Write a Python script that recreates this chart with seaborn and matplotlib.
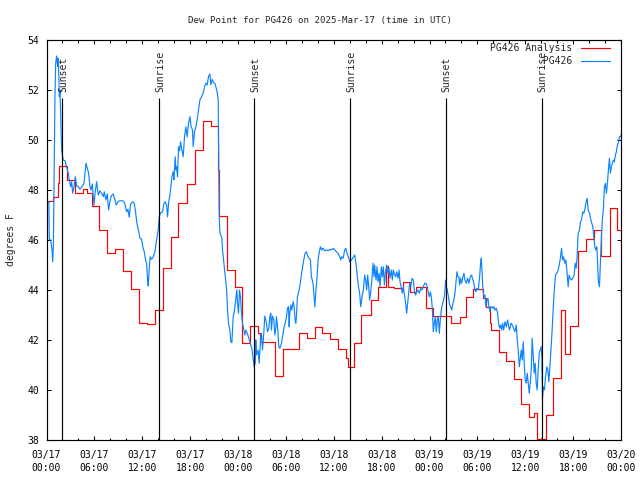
import matplotlib
matplotlib.use("Agg")
import matplotlib.pyplot as plt
import seaborn as sns
from matplotlib.ticker import MultipleLocator, FixedLocator, FixedFormatter

# ---------------- data ----------------
title = "Dew Point for PG426 on 2025-Mar-17 (time in UTC)"
y_label = "degrees F"
x_tick_hours = [0, 6, 12, 18, 24, 30, 36, 42, 48, 54, 60, 66, 72]
x_tick_labels = ["03/17\n00:00", "03/17\n06:00", "03/17\n12:00", "03/17\n18:00",
                 "03/18\n00:00", "03/18\n06:00", "03/18\n12:00", "03/18\n18:00",
                 "03/19\n00:00", "03/19\n06:00", "03/19\n12:00", "03/19\n18:00",
                 "03/20\n00:00"]
y_ticks = [38, 40, 42, 44, 46, 48, 50, 52, 54]

sun_hours = [1.98, 14.1, 26.0, 38.02, 50.02, 62.05]
sun_labels = ["Sunset", "Sunrise", "Sunset", "Sunrise", "Sunset", "Sunrise"]

# hours since 03/17 00:00 UTC where each analysis (hourly) value starts
analysis_hours = [0.0, 0.78, 1.48, 1.6, 2.6, 3.57, 4.6, 5.03, 5.66, 6.61,
                  7.61, 8.61, 9.54, 10.54, 11.58, 12.62, 13.58, 14.62, 15.55, 16.5,
                  17.55, 18.6, 19.64, 20.56, 21.5, 21.62, 22.64, 23.6, 24.56, 25.48,
                  26.52, 26.73, 28.61, 29.65, 31.66, 32.66, 33.62, 34.59, 35.59, 36.54,
                  37.59, 37.8, 38.6, 39.47, 40.63, 41.55, 42.6, 42.8, 43.55, 44.68,
                  45.52, 46.35, 47.6, 48.43, 50.74, 51.78, 52.53, 53.45, 54.7, 55.1,
                  55.53, 55.75, 56.7, 57.6, 58.54, 59.5, 60.46, 61.05, 61.46, 62.55,
                  63.46, 64.5, 64.93, 65.55, 66.6, 67.56, 68.56, 69.44, 69.52, 70.56,
                  71.48, 72.0]
analysis_dewpt = [47.57, 47.73, 48.29, 48.96, 48.4, 47.87, 48.03, 47.87, 47.36, 46.4,
                  45.49, 45.63, 44.77, 44.05, 42.67, 42.65, 43.2, 44.87, 46.13, 47.49,
                  48.23, 49.6, 50.76, 50.56, 48.8, 46.97, 44.8, 44.13, 41.87, 42.56,
                  42.27, 41.93, 40.56, 41.63, 42.27, 42.07, 42.53, 42.27, 42.03, 41.63,
                  41.27, 40.93, 41.9, 43.0, 43.6, 44.13, 44.96, 44.13, 44.07, 44.33,
                  43.93, 44.13, 43.27, 42.96, 42.67, 42.9, 43.73, 44.03, 43.67, 43.33,
                  42.67, 42.4, 41.53, 41.17, 40.43, 39.44, 38.93, 39.07, 38.03, 39.0,
                  40.47, 43.2, 41.44, 42.56, 45.56, 46.03, 46.4, 45.9, 45.37, 47.27,
                  46.4, 46.4]

obs_hours = [
    0.0, 0.19, 0.3, 0.35, 0.52, 0.69, 0.77, 0.86, 0.98, 1.06,
    1.15, 1.27, 1.4, 1.48, 1.61, 1.69, 1.77, 1.86, 1.94, 2.11,
    2.32, 2.52, 2.73, 2.86, 3.03, 3.15, 3.28, 3.44, 3.61, 3.78,
    3.99, 4.19, 4.44, 4.7, 4.95, 5.11, 5.28, 5.45, 5.57, 5.74,
    5.95, 6.11, 6.28, 6.49, 6.7, 6.91, 7.12, 7.24, 7.45, 7.62,
    7.78, 7.95, 8.12, 8.37, 8.58, 8.74, 8.95, 9.2, 9.54, 9.79,
    10.04, 10.2, 10.37, 10.54, 10.79, 11.0, 11.16, 11.33, 11.54, 11.71,
    11.92, 12.08, 12.25, 12.42, 12.54, 12.67, 12.75, 12.88, 13.0, 13.17,
    13.38, 13.59, 13.8, 14.0, 14.13, 14.3, 14.55, 14.72, 14.88, 15.05,
    15.17, 15.3, 15.46, 15.59, 15.71, 15.88, 15.96, 16.13, 16.22, 16.3,
    16.42, 16.55, 16.68, 16.8, 16.97, 17.13, 17.3, 17.47, 17.63, 17.8,
    17.97, 18.13, 18.3, 18.38, 18.55, 18.72, 18.88, 19.05, 19.22, 19.43,
    19.64, 19.8, 19.97, 20.14, 20.3, 20.47, 20.6, 20.76, 20.93, 21.1,
    21.22, 21.39, 21.52, 21.6, 21.64, 21.73, 21.85, 21.98, 22.06, 22.23,
    22.4, 22.56, 22.69, 22.81, 22.98, 23.1, 23.23, 23.31, 23.4, 23.56,
    23.73, 23.85, 23.94, 24.06, 24.19, 24.31, 24.44, 24.56, 24.73, 24.85,
    24.98, 25.15, 25.31, 25.48, 25.6, 25.73, 25.9, 26.02, 26.15,
    26.23, 26.31, 26.52, 26.65, 26.82, 26.94, 27.07, 27.23, 27.36, 27.57,
    27.69, 27.86, 27.99, 28.11, 28.19, 28.32, 28.49, 28.61, 28.74, 28.82,
    28.99, 29.11, 29.24, 29.45, 29.66, 29.79, 29.91, 30.08, 30.2, 30.33,
    30.41, 30.49, 30.62, 30.74, 30.91, 31.03, 31.16, 31.24, 31.32, 31.45,
    31.57, 31.74, 31.91, 32.07, 32.24, 32.41, 32.58, 32.79, 32.91, 33.08,
    33.2, 33.41, 33.53, 33.62, 33.74, 33.91, 34.04, 34.16, 34.33, 34.5,
    34.66, 34.87, 35.08, 35.29, 35.5, 35.71, 35.92, 36.13, 36.33, 36.54,
    36.75, 36.88, 37.0, 37.17, 37.38, 37.5, 37.67, 37.83, 38.0, 38.21,
    38.42, 38.63, 38.83, 38.96, 39.13, 39.25, 39.38,
    39.55, 39.71, 39.88, 40.0, 40.13, 40.25, 40.38, 40.5, 40.63, 40.8,
    40.92, 41.05, 41.13, 41.3, 41.42, 41.55, 41.68, 41.8, 41.97, 42.09,
    42.22, 42.35, 42.47, 42.64, 42.8, 42.93, 43.05, 43.22, 43.35, 43.47,
    43.64, 43.76, 43.89, 44.06, 44.18, 44.31, 44.47, 44.6, 44.72, 44.89,
    45.01, 45.14, 45.26, 45.39, 45.51, 45.64, 45.81, 45.97, 46.14, 46.27,
    46.39, 46.56, 46.73, 46.89, 47.06, 47.23, 47.39, 47.56, 47.73, 47.85,
    47.98, 48.1, 48.23, 48.35, 48.48, 48.6, 48.73, 48.85, 48.98, 49.1,
    49.23, 49.35, 49.48,
    49.6, 49.77, 49.9, 50.02, 50.1, 50.23, 50.36, 50.53, 50.65, 50.77,
    50.94, 51.06, 51.19, 51.31, 51.44, 51.56, 51.69, 51.77, 51.9, 52.02,
    52.19, 52.32, 52.44, 52.61, 52.78, 52.94, 53.11, 53.27, 53.44, 53.57,
    53.69, 53.82, 53.94, 54.11, 54.28, 54.4, 54.49, 54.57, 54.7, 54.82,
    54.95, 55.07, 55.2, 55.33, 55.45, 55.58, 55.7, 55.83, 55.95, 56.08,
    56.2, 56.37, 56.54, 56.66, 56.79, 56.91, 57.04, 57.16, 57.29, 57.46,
    57.62, 57.79, 57.92, 58.04, 58.21, 58.37, 58.54, 58.71, 58.87, 59.0,
    59.12, 59.25, 59.37, 59.5, 59.62, 59.75, 59.87, 60.0, 60.12, 60.25,
    60.37, 60.5, 60.62, 60.75, 60.87, 61.0, 61.12, 61.25, 61.37, 61.5,
    61.62, 61.75, 61.87, 62.0, 62.08, 62.16, 62.29, 62.41, 62.54, 62.71,
    62.83, 62.95,
    63.12, 63.25, 63.37, 63.54, 63.67, 63.79, 63.96, 64.13, 64.3, 64.42,
    64.55, 64.67, 64.8, 64.96, 65.09, 65.21, 65.38, 65.5, 65.63, 65.8,
    65.96, 66.13, 66.25, 66.38, 66.5, 66.63, 66.8, 66.92, 67.05, 67.21,
    67.34, 67.46, 67.63, 67.76, 67.88, 68.05, 68.22, 68.34, 68.47, 68.59,
    68.72, 68.84, 68.97, 69.05, 69.17, 69.3, 69.42, 69.55, 69.67, 69.8,
    69.92, 70.05, 70.17, 70.3, 70.42, 70.55, 70.67, 70.8, 70.92, 71.05,
    71.17, 71.3, 71.42, 71.55, 71.67, 71.8, 71.92, 72.0,
]
obs_dewpt = [
    47.6, 47.53, 47.5, 46.03, 46.0, 45.6, 45.13, 45.73, 49.47, 51.73,
    53.07, 53.36, 52.93, 53.27, 51.73, 52.0, 51.07, 50.0, 49.47, 49.2,
    49.17, 48.93, 48.67, 48.4, 48.13, 48.33, 47.87, 48.13, 48.53, 48.16,
    48.13, 48.03, 48.13, 48.27, 49.07, 48.87, 48.67, 48.13, 48.0, 48.24,
    47.4, 47.93, 48.33, 47.8, 47.97, 47.87, 47.73, 47.93, 47.6, 47.84,
    47.2, 47.53, 47.77, 47.84, 47.6, 47.4, 47.53, 47.57, 47.57, 47.49,
    47.13, 47.23, 46.91, 47.44, 47.53, 47.47, 47.13, 46.67, 46.37, 46.07,
    46.03, 45.71, 45.53, 45.2, 45.07, 44.4, 44.16, 44.87, 45.33, 45.23,
    45.33, 45.53, 46.0, 46.4, 46.93, 47.09, 47.13, 47.47, 47.53, 47.4,
    46.93, 47.47, 47.8, 48.13, 48.53, 48.73, 48.4, 49.33, 48.8, 48.93,
    48.53, 49.73, 49.57, 49.93, 49.6, 49.33, 50.13, 50.53, 50.13, 50.67,
    50.93, 50.53, 50.4, 49.73, 50.33, 50.53, 50.8, 51.2, 51.6, 51.73,
    51.87, 52.13, 52.27, 52.2, 52.53, 52.64, 52.2, 52.43, 52.29, 52.27,
    52.13, 51.93, 51.6, 48.8, 47.07, 46.27, 46.2, 46.07, 45.6, 45.07,
    44.53, 44.07, 43.2, 42.67, 42.4, 41.93, 41.89, 42.4, 42.93, 43.2,
    43.67, 44.0, 43.47, 43.07, 44.0, 43.73, 43.07, 42.67, 42.4, 42.2,
    42.4, 42.27, 42.13, 41.93, 41.8, 41.67, 41.27, 40.93, 41.07,
    42.0, 41.4, 41.6, 41.07, 42.0, 42.27, 41.6, 42.27, 42.96, 42.67,
    42.33, 42.47, 42.93, 43.07, 42.4, 42.96, 42.8, 42.2, 42.47, 42.93,
    42.4, 41.73, 41.67, 41.87, 42.27, 42.53, 42.67, 42.93, 43.27, 43.33,
    42.53, 43.07, 43.4, 43.2, 43.53, 43.33, 42.8, 42.67, 42.93, 43.73,
    43.87, 44.13, 44.53, 44.87, 45.2, 45.47, 45.53, 45.33, 45.27, 45.2,
    44.53, 44.27, 43.73, 43.33, 43.87, 44.53, 45.2, 45.47, 45.73, 45.6,
    45.67, 45.57, 45.6, 45.57, 45.63, 45.6, 45.67, 45.6, 45.53, 45.47,
    45.33, 45.2, 45.33, 45.27, 45.6, 45.67, 45.47, 45.33, 45.13, 45.2,
    45.3, 45.4, 44.93, 44.53, 44.07, 43.87, 43.33,
    43.73, 44.0, 44.6, 44.4, 44.0, 44.6, 44.13, 43.6, 43.93, 44.47,
    45.07, 44.53, 45.0, 44.4, 44.93, 44.33, 44.67, 44.13, 44.93, 44.53,
    44.93, 44.2, 44.67, 45.0, 44.67, 44.87, 44.47, 44.8, 44.4, 44.8,
    44.6, 44.53, 44.73, 44.47, 44.8, 44.33, 44.07, 43.87, 44.13, 43.73,
    43.47, 43.07, 43.47, 43.87, 44.27, 44.13, 44.47, 44.4, 43.87, 43.8,
    43.93, 44.0, 43.87, 44.07, 44.0, 44.13, 44.27, 44.27, 44.13, 43.87,
    43.73, 43.93, 43.73, 43.27, 42.33, 42.67, 42.93, 42.33, 42.8, 42.93,
    42.27, 42.8, 43.2,
    43.4, 43.6, 43.8, 44.4, 44.13, 44.0, 43.73, 43.4, 43.33, 43.2,
    43.47, 43.6, 43.87, 44.27, 44.73, 44.53, 44.53, 44.2, 44.47, 44.27,
    44.53, 44.67, 44.4, 44.27, 44.47, 44.27, 44.53, 44.6, 44.4, 44.27,
    44.0, 43.93, 44.07, 44.0, 44.53, 45.07, 45.27, 44.8, 44.0, 43.73,
    43.8, 43.33, 43.6, 43.67, 43.33, 43.13, 43.33, 43.33, 43.27, 43.33,
    43.2, 43.27, 43.07, 42.67, 42.47, 42.6, 42.4, 42.67, 42.4, 42.73,
    42.53, 42.8, 42.53, 42.4, 42.67, 42.6, 42.47, 42.33, 42.6, 42.0,
    41.6, 40.93, 41.27, 41.6, 41.2, 41.93, 41.07, 40.4, 40.27, 40.67,
    40.27, 39.87, 40.27, 40.8, 42.07, 41.33, 40.67, 41.07, 40.27, 40.0,
    40.8, 41.47, 41.6, 41.73, 41.27, 39.67, 40.13, 40.0, 40.53, 40.93,
    40.8, 40.33,
    41.07, 41.73, 42.4, 43.47, 44.13, 44.6, 44.67, 44.8, 45.07, 45.33,
    45.67, 45.2, 45.33, 45.07, 45.2, 44.8, 44.13, 44.6, 44.47, 44.4,
    44.47, 44.6, 45.07, 44.87, 45.33, 46.27, 46.4, 46.73, 46.8, 47.13,
    47.07, 47.2, 47.53, 47.67, 47.2, 47.07, 46.8, 46.67, 46.53, 46.13,
    45.73, 45.6, 45.73, 45.2, 44.33, 44.13, 45.07, 46.13, 46.87, 47.27,
    48.13, 48.27, 47.87, 48.27, 48.8, 49.27, 48.67, 48.93, 49.07, 49.2,
    49.13, 49.4, 49.53, 49.8, 49.87, 50.13, 50.13, 50.2,
]

analysis_label = "PG426 Analysis"
obs_label = "PG426"

# ---------------- style ----------------
sns.set_style("white")
plt.rcParams["font.family"] = ["DejaVu Sans Mono"]
plt.rcParams["font.size"] = 7

fig = plt.figure(figsize=(6.4, 4.8), dpi=100)
ax = fig.add_axes([46.5 / 640, 40 / 480, 574.5 / 640, 400 / 480])

sns.lineplot(x=analysis_hours, y=analysis_dewpt, ax=ax, color="#ff0000",
             lw=0.85, drawstyle="steps-post", estimator=None, sort=False,
             label=analysis_label)
sns.lineplot(x=obs_hours, y=obs_dewpt, ax=ax, color="#0a84ff",
             lw=0.85, estimator=None, sort=False, label=obs_label)

# sunrise / sunset markers
ax.vlines(sun_hours, 38, 51.67, color="black", lw=0.85, zorder=5)
for h, lab in zip(sun_hours, sun_labels):
    ax.text(h + 0.15, 51.93, lab, rotation=90, ha="center", va="bottom",
            fontsize=7, zorder=6)

ax.set_xlim(0, 72)
ax.set_ylim(38, 54)
ax.xaxis.set_major_locator(FixedLocator(x_tick_hours))
ax.xaxis.set_major_formatter(FixedFormatter(x_tick_labels))
ax.xaxis.set_minor_locator(MultipleLocator(2))
ax.set_yticks(y_ticks)
ax.set_yticklabels([str(v) for v in y_ticks])

ax.tick_params(which="both", direction="in", top=True, right=True,
               bottom=True, left=True, width=0.75, colors="black")
ax.tick_params(which="major", length=3.2)
ax.tick_params(which="minor", length=1.8)
ax.tick_params(axis="x", which="major", pad=7, labelsize=7)
ax.tick_params(axis="y", which="major", pad=5, labelsize=7)
for lab in ax.get_xticklabels():
    lab.set_linespacing(1.45)

for sp in ax.spines.values():
    sp.set_visible(True)
    sp.set_color("black")
    sp.set_linewidth(0.85)

ax.set_xlabel("")
ax.set_ylabel("")
fig.text(11 / 640, 0.5, y_label, rotation=90, ha="center", va="center", fontsize=7)
fig.text(0.5, 1 - 20 / 480, title, ha="center", va="center", fontsize=6.6)

# legend: text right-aligned via monospace padding, sample line to the right
handles, labels = ax.get_legend_handles_labels()
width = max(len(l) for l in labels)
labels = [l.rjust(width) for l in labels]
ax.legend(handles, labels, loc="upper right", bbox_to_anchor=(0.981, 0.992),
          frameon=False, markerfirst=False, fontsize=7, handlelength=3.0,
          handletextpad=0.9, borderpad=0, borderaxespad=0, labelspacing=0.32)

ax.grid(False)
fig.savefig("out.png", dpi=100, facecolor="white")
